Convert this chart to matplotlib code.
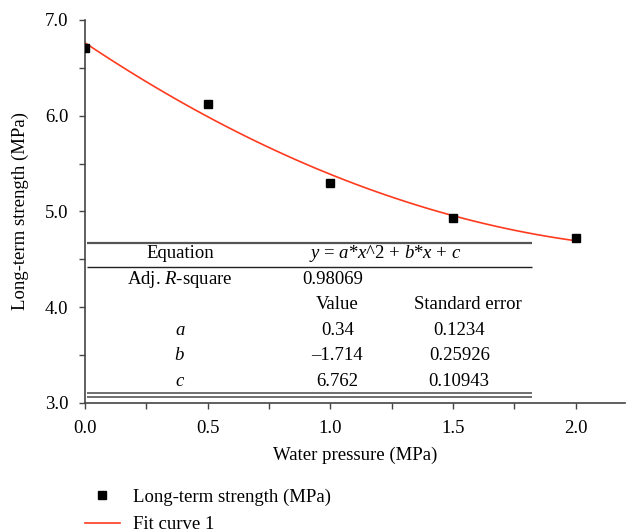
import numpy as np
import matplotlib.pyplot as plt

# measured points
water_pressure = [0.0, 0.5, 1.0, 1.5, 2.0]
strength = [6.71, 6.12, 5.30, 4.93, 4.72]

# fit parameters shown in the table
fit_a = 0.34
fit_b = -1.714
fit_c = 6.762
adj_r2 = '0.98069'
param_names = ['$a$', '$b$', '$c$']
param_values = ['0.34', '\u20131.714', '6.762']
param_errors = ['0.1234', '0.25926', '0.10943']

plt.rcParams['font.family'] = 'Liberation Serif'
plt.rcParams['mathtext.fontset'] = 'custom'
plt.rcParams['mathtext.rm'] = 'Liberation Serif'
plt.rcParams['mathtext.it'] = 'Liberation Serif:italic'
plt.rcParams['font.size'] = 13.5

fig = plt.figure(figsize=(6.29, 5.32), dpi=100)
ax = fig.add_axes([0.135, 0.2425, 0.8585, 0.72])

points, = ax.plot(water_pressure, strength, 's', color='black', markersize=5.5,
                  linestyle='none', label='Long-term strength (MPa)', zorder=3)
xs = np.linspace(0, 2, 50)
curve, = ax.plot(xs, fit_a * xs ** 2 + fit_b * xs + fit_c, color='#ff3b1f', lw=1.2,
                 label='Fit curve 1')

ax.set_xlim(0, 2.2)
ax.set_ylim(3.0, 7.0)
ax.set_xticks([0.0, 0.5, 1.0, 1.5, 2.0])
ax.set_xticks([0.25, 0.75, 1.25, 1.75], minor=True)
ax.set_yticks([3.0, 4.0, 5.0, 6.0, 7.0])
ax.set_yticks([3.5, 4.5, 5.5, 6.5], minor=True)
ax.set_xticklabels(['0.0', '0.5', '1.0', '1.5', '2.0'])
ax.set_yticklabels(['3.0', '4.0', '5.0', '6.0', '7.0'])
ax.spines['top'].set_visible(False)
ax.spines['right'].set_visible(False)
for s in ['left', 'bottom']:
    ax.spines[s].set_color('#444444')
    ax.spines[s].set_linewidth(1.2)
ax.tick_params(which='both', direction='out', color='#444444', width=1.0, length=4)
ax.tick_params(which='major', pad=8)
ax.set_xlabel('Water pressure (MPa)', labelpad=7)
ax.set_ylabel('Long-term strength (MPa)', labelpad=11)

# fit result table
ax.hlines(4.671, 0.008, 1.82, color='#555555', lw=1.6)
ax.hlines(4.42, 0.008, 1.82, color='#222222', lw=1.0)
ax.hlines([3.104, 3.063], 0.008, 1.82, color='#555555', lw=1.2)
ax.text(0.387, 4.556, 'Equation', ha='center', va='center')
ax.text(1.222, 4.556, '$y$ = $a$*$x$^2 + $b$*$x$ + $c$', ha='center', va='center')
ax.text(0.387, 4.285, 'Adj. $R$-square', ha='center', va='center')
ax.text(0.884, 4.285, adj_r2, ha='left', va='center')
ax.text(1.028, 4.024, 'Value', ha='center', va='center')
ax.text(1.56, 4.024, 'Standard error', ha='center', va='center')
rows_y = [3.762, 3.50, 3.22]
for name, val, err, yy in zip(param_names, param_values, param_errors, rows_y):
    ax.text(0.387, yy, name, ha='center', va='center')
    ax.text(1.028, yy, val, ha='center', va='center')
    ax.text(1.525, yy, err, ha='center', va='center')

fig.legend(handles=[points, curve], loc='upper left', bbox_to_anchor=(0.135, 0.082),
           frameon=False, handlelength=1.87, handletextpad=0.7, labelspacing=0.55,
           borderaxespad=0, borderpad=0, markerscale=1.0)

plt.savefig('out.png', dpi=100)
